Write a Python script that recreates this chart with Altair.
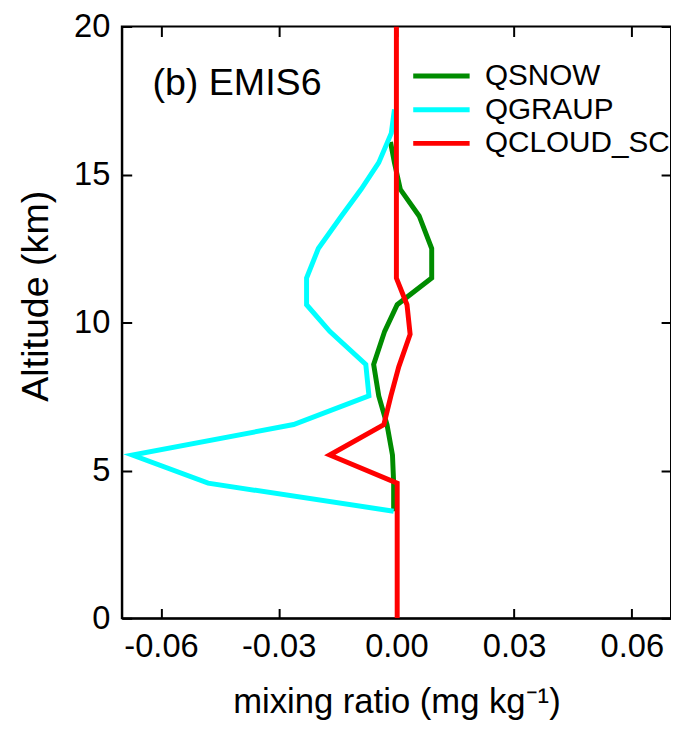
import altair as alt
import pandas as pd

# ---- data ----
series_names = ["QSNOW", "QGRAUP", "QCLOUD_SC"]
series_colors = ["#008C00", "#00FFFF", "#FF0000"]

alt_snow = [3.62, 4.57, 5.52, 6.55, 7.52, 8.58, 9.70, 10.6, 11.5, 12.5, 13.6, 14.5, 15.4, 16.1]
val_snow = [-0.0007, -0.0007, -0.0010, -0.0024, -0.0045, -0.0058, -0.0030, 0.0002,
            0.0090, 0.0090, 0.0058, 0.0010, -0.0005, -0.0015]

alt_graup = [3.62, 4.57, 5.52, 6.55, 7.52, 8.58, 9.70, 10.6, 11.5, 12.5, 13.6, 14.5, 15.4, 16.4, 17.2]
val_graup = [-0.0007, -0.0480, -0.0673, -0.0262, -0.0070, -0.0078, -0.0170, -0.0229,
             -0.0229, -0.0199, -0.0140, -0.0090, -0.0045, -0.0013, -0.0005]

alt_cloud = [0.0, 4.57, 5.52, 6.55, 7.52, 8.5, 9.6, 10.6, 11.5, 20.0]
val_cloud = [0.0002, 0.0002, -0.0170, -0.0032, -0.0014, 0.0006, 0.0035, 0.0027, 0.0, 0.0]

x_ticks = [-0.06, -0.03, 0.0, 0.03, 0.06]
y_ticks = [0, 5, 10, 15, 20]

panel_label = "(b) EMIS6"
panel_label_x = -0.0622
panel_label_y = 18.05

# ---- build table ----
rows = []
for name, a_list, v_list in zip(series_names, [alt_snow, alt_graup, alt_cloud],
                                [val_snow, val_graup, val_cloud]):
    for a, v in zip(a_list, v_list):
        rows.append({"series": name, "km": a, "val": v})
df = pd.DataFrame(rows)

W, H = 555, 598

x_enc = alt.X(
    "val:Q",
    scale=alt.Scale(domain=[-0.07, 0.07], nice=False, zero=False),
    axis=alt.Axis(
        values=x_ticks,
        labelExpr="datum.value < 0 ? '-' + format(-datum.value, '.2f') : format(datum.value, '.2f')",
        title="mixing ratio (mg kg\u207b\u00b9)",
        gridDash=[10, H - 20, 10, 2000],
        labelPadding=13,
        titlePadding=21,
    ),
)
y_enc = alt.Y(
    "km:Q",
    scale=alt.Scale(domain=[0, 20], nice=False, zero=False),
    axis=alt.Axis(
        values=y_ticks,
        format="d",
        title="Altitude (km)",
        titleFontSize=38,
        gridDash=[10, W - 20, 10, 2000],
        labelPadding=12,
        titlePadding=18,
        titleY=H / 2 - 27,
    ),
)

color_enc = alt.Color(
    "series:N",
    scale=alt.Scale(domain=series_names, range=series_colors),
    legend=alt.Legend(
        orient="none",
        legendX=292,
        legendY=33,
        title=None,
        symbolType="stroke",
        symbolSize=3249,
        symbolStrokeWidth=5,
        labelFontSize=30,
        labelColor="black",
        labelLimit=600,
        clipHeight=34,
        padding=0,
        rowPadding=0,
        labelOffset=13,
    ),
)

base = alt.Chart(df).encode(x=x_enc, y=y_enc, color=color_enc, order=alt.Order("km:Q"))

layers = [
    base.transform_filter(alt.datum.series == name).mark_line(strokeWidth=5, clip=True)
    for name in series_names
]

label_df = pd.DataFrame({"val": [panel_label_x], "km": [panel_label_y], "t": [panel_label]})
label = alt.Chart(label_df).mark_text(
    align="left", baseline="middle", fontSize=38, color="black"
).encode(x=x_enc, y=y_enc, text="t:N")

chart = (
    alt.layer(*layers, label)
    .properties(
        width=W,
        height=H,
        autosize=alt.AutoSizeParams(type="none"),
        padding={"left": 115, "top": 15, "right": 0, "bottom": 104},
    )
    .configure(font="Liberation Sans")
    .configure_view(stroke="black", strokeWidth=2)
    .configure_axis(
        domain=True,
        domainColor="black",
        domainWidth=2,
        ticks=False,
        grid=True,
        gridColor="black",
        gridWidth=2,
        gridOpacity=1,
        labelFontSize=33,
        labelColor="black",
        titleFontSize=35,
        titleFontWeight="normal",
        titleColor="black",
    )
)

chart.save("out.html", embed_options={"renderer": "svg", "actions": False})
